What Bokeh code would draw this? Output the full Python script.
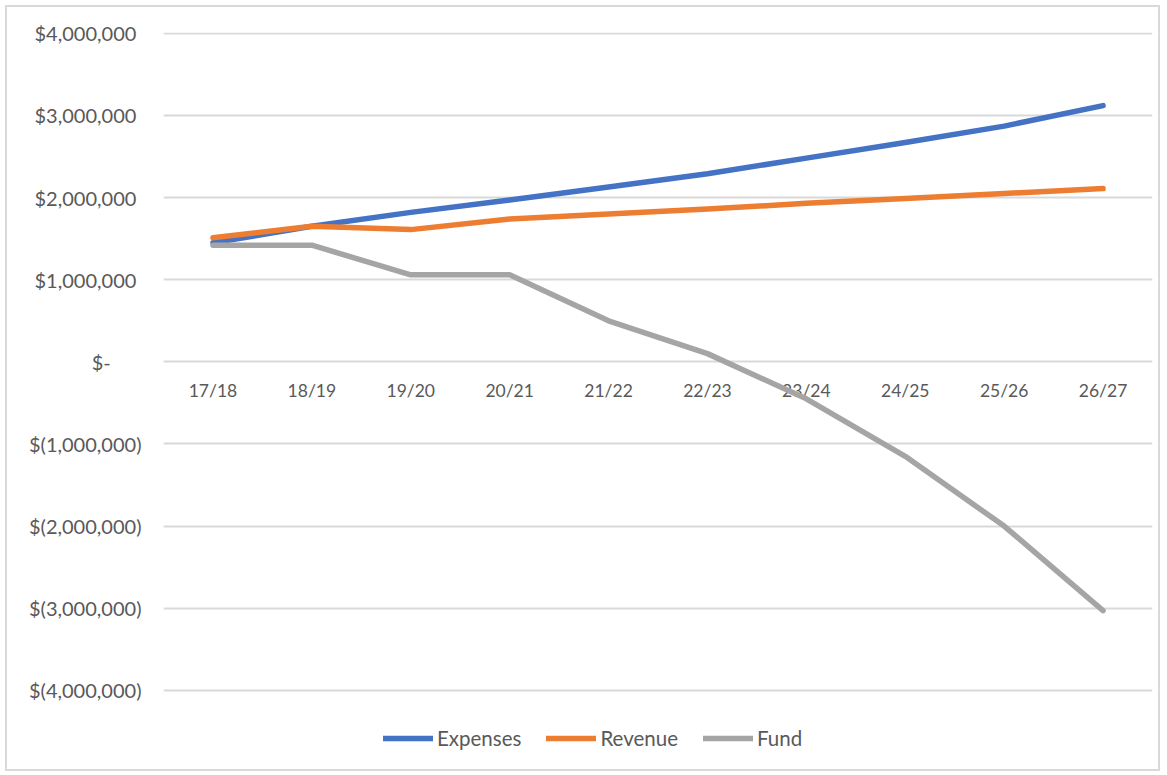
from bokeh.plotting import figure
from bokeh.models import FixedTicker, Legend, LegendItem, Range1d
from bokeh.core.properties import value
from bokeh.embed import file_html
from bokeh.resources import INLINE

years = ["17/18", "18/19", "19/20", "20/21", "21/22", "22/23", "23/24", "24/25", "25/26", "26/27"]
expenses = [1450000, 1650000, 1820000, 1970000, 2130000, 2290000, 2480000, 2670000, 2870000, 3120000]
revenue = [1510000, 1650000, 1610000, 1740000, 1800000, 1860000, 1930000, 1990000, 2050000, 2110000]
fund = [1420000, 1420000, 1060000, 1060000, 500000, 100000, -450000, -1150000, -2000000, -3030000]
y_ticks = [-4000000, -3000000, -2000000, -1000000, 0, 1000000, 2000000, 3000000, 4000000]
y_labels = ["$(4,000,000)", "$(3,000,000)", "$(2,000,000)", "$(1,000,000)", "$-\u00a0\u00a0\u00a0\u00a0\u00a0\u00a0",
            "$1,000,000\u00a0", "$2,000,000\u00a0", "$3,000,000\u00a0", "$4,000,000\u00a0"]

FONT = "Lato"
TXT = "#595959"

# frame spans from the top gridline area down to the legend row (legend sits inside the frame, below -4M)
p = figure(width=1155, height=766, x_range=years, y_range=Range1d(-4988000, 4010000),
           output_backend="svg", toolbar_location=None,
           min_border_left=156, min_border_right=10, min_border_top=25, min_border_bottom=2)
p.styles = {"border": "2px solid #d9d9d9", "box-sizing": "border-box", "margin": "5px 0 0 5px"}
p.outline_line_color = None
p.background_fill_color = "white"

p.yaxis.ticker = FixedTicker(ticks=y_ticks)
p.yaxis.major_label_overrides = {t: l for t, l in zip(y_ticks, y_labels)}
p.yaxis.axis_line_color = None
p.yaxis.major_tick_line_color = None
p.yaxis.minor_tick_line_color = None
p.yaxis.major_label_text_font = FONT
p.yaxis.major_label_text_font_size = "20px"
p.yaxis.major_label_text_color = TXT
p.yaxis.major_label_standoff = 16

p.xaxis.visible = False
p.xgrid.grid_line_color = None
p.ygrid.grid_line_color = "#d9d9d9"
p.ygrid.grid_line_width = 2

# category labels sit just below the zero line
p.text(x=years, y=[0] * len(years), text=years, y_offset=29,
       text_align="center", text_baseline="middle",
       text_font=value(FONT), text_font_size="17.5px", text_color=TXT)

r1 = p.line(years, expenses, line_color="#4472C4", line_width=5.5, line_cap="round", line_join="round")
r2 = p.line(years, revenue, line_color="#ED7D31", line_width=5.5, line_cap="round", line_join="round")
r3 = p.line(years, fund, line_color="#A5A5A5", line_width=5.5, line_cap="round", line_join="round")

legend = Legend(items=[LegendItem(label="Expenses", renderers=[r1]),
                       LegendItem(label="Revenue", renderers=[r2]),
                       LegendItem(label="Fund", renderers=[r3])],
                orientation="horizontal", location=(220, 21),
                glyph_width=50, glyph_height=20, label_standoff=4, spacing=25,
                padding=0, margin=0, border_line_color=None, background_fill_alpha=0,
                label_text_font=FONT, label_text_font_size="20.5px", label_text_color=TXT)
p.add_layout(legend, "center")

open("out.html", "w").write(file_html(p, INLINE))
